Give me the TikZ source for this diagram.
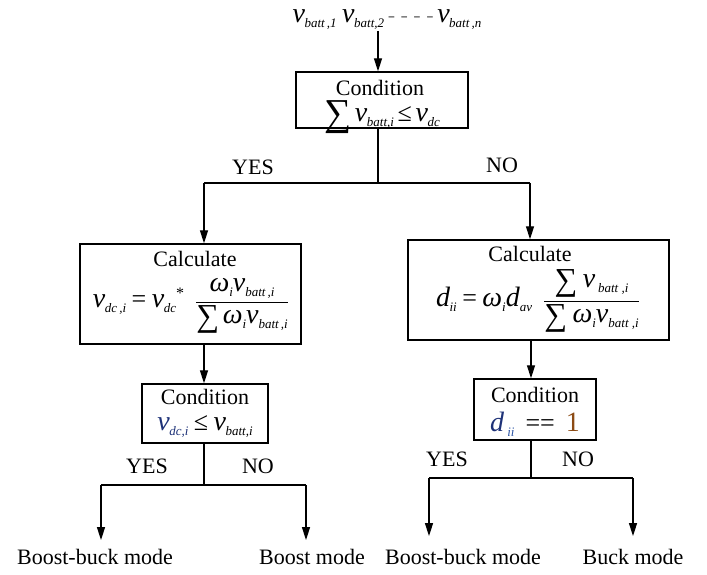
\documentclass[tikz,border=0pt]{standalone}
\usepackage{fontspec}
\setmainfont{Liberation Serif}
\usepackage{amsmath}
\usetikzlibrary{arrows.meta}
\definecolor{navy}{RGB}{30,50,120}
\definecolor{dblue}{RGB}{45,85,165}
\definecolor{ochre}{RGB}{140,75,20}
\newcommand{\MI}[1]{{\fontsize{28}{30}\selectfont\itshape #1}}
\newcommand{\SB}[1]{\raisebox{-5pt}{\fontsize{13}{14}\selectfont\itshape #1}}
\newcommand{\VV}[2]{\MI{#1}\kern-0.5pt\SB{#2}}
\newcommand{\REL}[1]{\,{\fontsize{26}{28}\selectfont #1}\,}
\newcommand{\WREL}[1]{\ {\fontsize{26}{28}\selectfont #1}\ }
\newcommand{\BIGSUM}{\raisebox{-4pt}{\fontsize{38}{38}\selectfont ∑}}
\newcommand{\MSUM}{\raisebox{-3pt}{\fontsize{32}{32}\selectfont ∑}}
\newcommand{\FR}[2]{$\genfrac{}{}{1pt}{0}{\mbox{#1}}{\mbox{#2}}$}
\begin{document}
\begin{tikzpicture}[x=1pt,y=-1pt,
  every node/.style={font=\fontsize{22}{26}\selectfont, inner sep=0pt},
  box/.style={draw, line width=1.4pt, rectangle},
  conn/.style={line width=1.3pt},
  arr/.style={line width=1.3pt, -{Triangle[length=13pt,width=8pt]}}]
\useasboundingbox (0,0) rectangle (707,575);

% boxes
\node[box, minimum width=172pt, minimum height=56pt] (b1) at (382,100) {};
\node[box, minimum width=221pt, minimum height=100pt] (cl) at (190.5,294) {};
\node[box, minimum width=261pt, minimum height=100pt] (cr) at (538.5,290) {};
\node[box, minimum width=126pt, minimum height=59pt] (dl) at (205,413.5) {};
\node[box, minimum width=122pt, minimum height=61pt] (dr) at (535,409.5) {};

% texts
\node (inputs) at (387,20) {\VV{v}{batt\,,1}\ \VV{v}{batt,2}\,\textcolor{gray}{- - - -}\,\VV{v}{batt\,,n}};
\node (t1) at (380,88) {Condition};
\node (f1) at (382,117) {\BIGSUM\,\VV{v}{batt,i}\REL{≤}\VV{v}{dc}};
\node (t2) at (195,259) {Calculate};
\node (f2) at (191,306) {\VV{v}{dc\,,i}\WREL{=}\VV{v}{dc}\raisebox{9pt}{\fontsize{16}{16}\selectfont *}\ \ \FR{\MI{ω}\SB{i}\MI{v}\SB{batt\,,i}}{\MSUM\,\MI{ω}\SB{i}\MI{v}\SB{batt\,,i}}};
\node (t3) at (530,254) {Calculate};
\node (f3) at (538,301) {\VV{d}{ii}\WREL{=}\MI{ω}\SB{i}\MI{d}\SB{av}\ \ \FR{\MSUM\ \VV{v}{\ batt\ ,i}}{\MSUM\ \MI{ω}\SB{i}\MI{v}\SB{batt\ ,i}}};
\node (t4) at (205,397) {Condition};
\node (f4) at (205,427) {\textcolor{navy}{\VV{v}{dc,i}}\WREL{≤}\VV{v}{batt,i}};
\node (t5) at (535,395) {Condition};
\node (f5) at (535,424) {\textcolor{navy}{\MI{d}}\textcolor{dblue}{\SB{\ ii}}\ \ {\fontsize{26}{28}\selectfont ==}\ \ \textcolor{ochre}{\fontsize{28}{30}\selectfont 1}};

\node (y1) at (253,167) {YES};
\node (n1) at (502,165) {NO};
\node (y2) at (147,466) {YES};
\node (n2) at (258,466) {NO};
\node (y3) at (447,459) {YES};
\node (n3) at (578,459) {NO};

\node (m1) at (95,557) {Boost-buck mode};
\node (m2) at (312,557) {Boost mode};
\node (m3) at (463,557) {Boost-buck mode};
\node (m4) at (633,557) {Buck mode};

% connectors
\coordinate (a0) at (378,31);
\coordinate (s1) at (378,183);
\coordinate (sL) at (204,183);
\coordinate (sR) at (530,183);
\draw[arr] (a0) -- (a0 |- b1.north);
\draw[conn] (s1 |- b1.south) -- (s1);
\draw[conn] (sL) -- (sR);
\draw[arr] (sL) -- (sL |- cl.north);
\draw[arr] (sR) -- (sR |- cr.north);

\coordinate (pL) at (204,485);
\draw[arr] (pL |- cl.south) -- (pL |- dl.north);
\draw[conn] (pL |- dl.south) -- (pL);
\coordinate (qL1) at (101,485);
\coordinate (qL2) at (306,485);
\draw[conn] (qL1) -- (qL2);
\draw[arr] (qL1) -- ([yshift=9pt]qL1 |- m1.north);
\draw[arr] (qL2) -- ([yshift=9pt]qL2 |- m2.north);

\coordinate (pR) at (531,478);
\draw[arr] (pR |- cr.south) -- (pR |- dr.north);
\draw[conn] (pR |- dr.south) -- (pR);
\coordinate (qR1) at (429,478);
\coordinate (qR2) at (633,478);
\draw[conn] (qR1) -- (qR2);
\draw[arr] (qR1) -- ([yshift=13pt]qR1 |- m3.north);
\draw[arr] (qR2) -- ([yshift=13pt]qR2 |- m4.north);
\end{tikzpicture}
\end{document}
